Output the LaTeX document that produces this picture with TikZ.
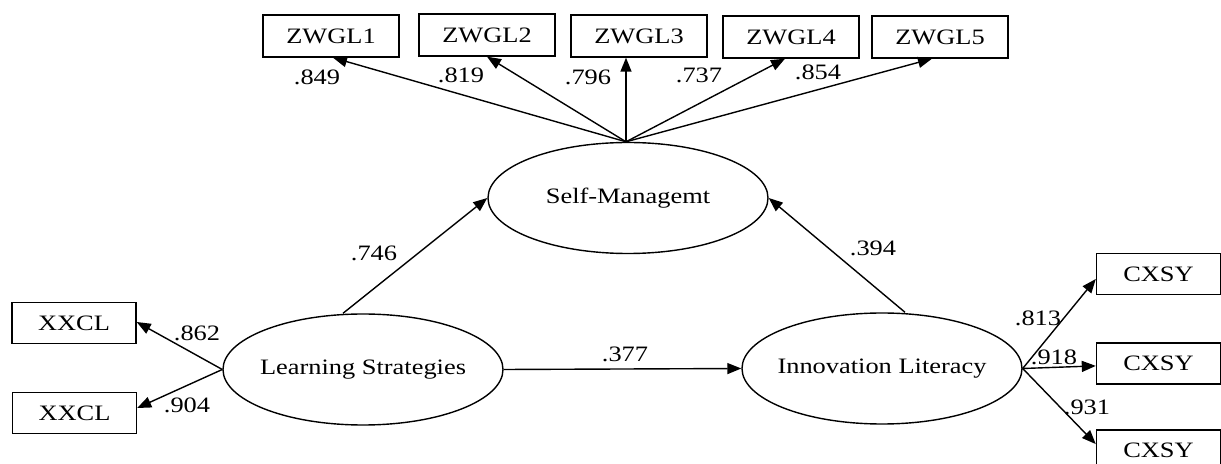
\documentclass[tikz,border=0pt]{standalone}
\usepackage{fontspec}
\setmainfont{Liberation Serif}[FakeStretch=1.2]
\usetikzlibrary{arrows.meta,shapes.geometric}

\tikzset{
  lbl/.style={font=\fontsize{11}{13}\selectfont, inner sep=0pt},
  obs/.style={draw, line width=0.7pt, rectangle, inner sep=0pt,
              minimum width=68pt, minimum height=21pt, font=\fontsize{11}{13}\selectfont},
  smallobs/.style={obs, minimum width=62pt, minimum height=20.5pt},
  latent/.style={draw, line width=0.7pt, ellipse, inner sep=0pt,
                 minimum width=140pt, minimum height=55.5pt,
                 label={[lbl]center:#1}},
  arr/.style={line width=0.7pt, -{Triangle[length=7pt,width=5.5pt]}}
}

\begin{document}
\begin{tikzpicture}[x=0.5pt, y=-0.5pt]
  \useasboundingbox (0,0) rectangle (1221,464);
  \clip (0,0) rectangle (1221,464);

  % indicators of Self-Managemt
  \node[obs] (z1) at (331,36) {ZWGL1};
  \node[obs] (z2) at (487,35) {ZWGL2};
  \node[obs] (z3) at (639,36) {ZWGL3};
  \node[obs] (z4) at (791,37) {ZWGL4};
  \node[obs] (z5) at (940,37) {ZWGL5};

  % latent variables
  \node[latent={Self-Managemt}] (sm) at (628,198) {};
  \node[latent={Learning Strategies}] (ls) at (363,369.5) {};
  \node[latent={Innovation Literacy}] (il) at (882,368.5) {};

  % indicators of Learning Strategies
  \node[smallobs] (x1) at (74,323) {XXCL};
  \node[smallobs] (x2) at (74.5,413) {XXCL};

  % indicators of Innovation Literacy
  \node[smallobs] (c1) at (1158.5,274) {CXSY};
  \node[smallobs] (c2) at (1158.5,363.5) {CXSY};
  \node[smallobs] (c3) at (1158.5,450.5) {CXSY};

  % loadings of Self-Managemt
  \draw[arr] ([xshift=-1pt]sm.north) -- ([xshift=1pt]z1.south);
  \draw[arr] ([xshift=-1pt]sm.north) -- (z2.south);
  \draw[arr] ([xshift=-1pt]sm.north) -- ([xshift=-1pt]sm.north |- z3.south);
  \draw[arr] ([xshift=-1pt]sm.north) -- ([xshift=-3pt]z4.south);
  \draw[arr] ([xshift=-1pt]sm.north) -- ([xshift=-4pt]z5.south);

  % structural paths
  \draw[arr] ([xshift=-10pt]ls.north) -- (sm.west);
  \draw[arr] ([xshift=11.5pt]il.north) -- (sm.east);
  \draw[arr] (ls.east) -- (il.west);

  % loadings of Learning Strategies
  \draw[arr] (ls.west) -- ([yshift=0.5pt]x1.east);
  \draw[arr] (ls.west) -- ([yshift=2.5pt]x2.east);

  % loadings of Innovation Literacy
  \draw[arr] (il.east) -- ([yshift=-2.5pt]c1.west);
  \draw[arr] (il.east) -- ([yshift=-1.2pt]c2.west);
  \draw[arr] (il.east) -- ([yshift=3.2pt]c3.west);

  % coefficients
  \node[lbl] (l1) at (317,77) {.849};
  \node[lbl] (l2) at (461,75) {.819};
  \node[lbl] (l3) at (588,77) {.796};
  \node[lbl] (l4) at (699,75) {.737};
  \node[lbl] (l5) at (818,72) {.854};
  \node[lbl] (l6) at (374,253) {.746};
  \node[lbl] (l7) at (873,248) {.394};
  \node[lbl] (l8) at (625,354) {.377};
  \node[lbl] (l9) at (197,333) {.862};
  \node[lbl] (l10) at (187,405) {.904};
  \node[lbl] (l11) at (1038,318) {.813};
  \node[lbl] (l12) at (1054,357) {.918};
  \node[lbl] (l13) at (1087,407) {.931};
\end{tikzpicture}
\end{document}
